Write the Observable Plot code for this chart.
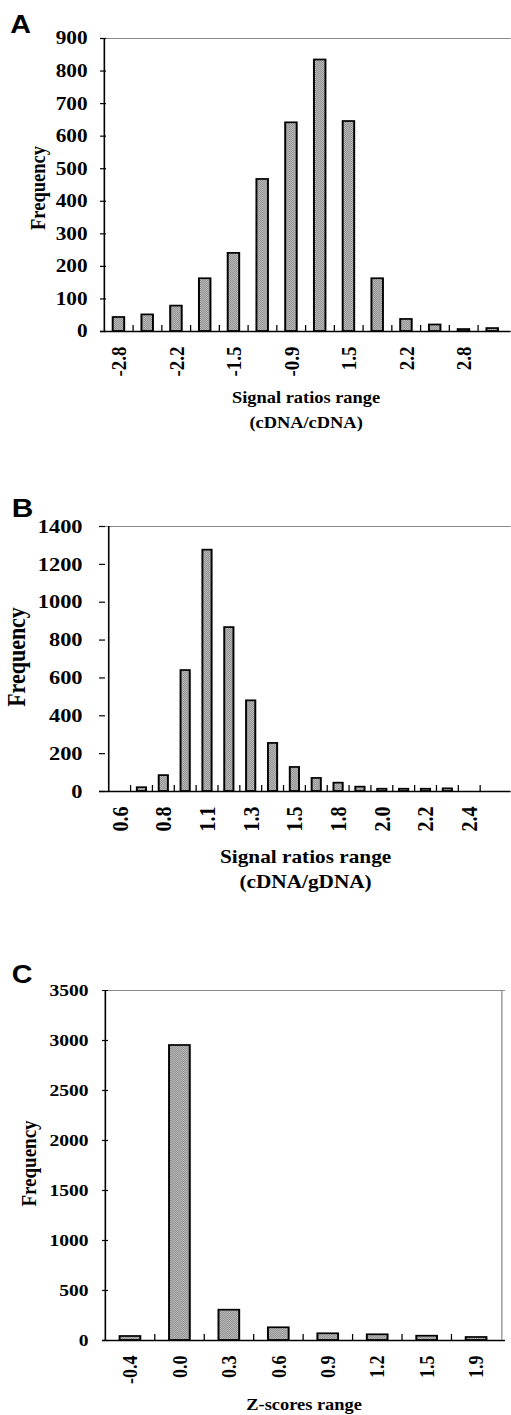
<!DOCTYPE html>
<html><head><meta charset="utf-8">
<script src="https://cdn.jsdelivr.net/npm/d3@7"></script>
<script src="https://cdn.jsdelivr.net/npm/@observablehq/plot@0.6"></script>
<style>
html,body{margin:0;padding:0;background:#fff;overflow:hidden;width:511px;height:1415px}
#root{position:relative;width:511px;height:1415px}
.panel{position:absolute;left:0;width:511px}
.panel svg{display:block;transform-origin:0 0;max-width:none !important}
</style></head><body>
<svg width="0" height="0" style="position:absolute">
  <defs>
    <pattern id="halftone" width="2" height="2" patternUnits="userSpaceOnUse">
      <rect width="2" height="2" fill="#c6c6c6"></rect>
      <rect width="1" height="1" fill="#858585"></rect>
      <rect x="1" y="1" width="1" height="1" fill="#858585"></rect>
    </pattern>
  </defs>
</svg>
<div id="root"></div>
<script>
// ---- Panel A data ----
const catsA = ["-2.8","-2.5","-2.2","-1.8","-1.5","-1.2","-0.9","1.2","1.5","1.8","2.2","2.5","2.8","3.1"];
const valsA = [43, 51, 78, 162, 240, 467, 641, 834, 645, 162, 37, 20, 6, 9];
const xTicksA = ["-2.8","-2.2","-1.5","-0.9","1.5","2.2","2.8"];
const yTicksA = [0, 100, 200, 300, 400, 500, 600, 700, 800, 900];
const titleA = ["Signal ratios range", "(cDNA/cDNA)"];

// ---- Panel B data ----
const catsB = ["0.6","0.7","0.8","1.0","1.1","1.2","1.3","1.4","1.5","1.7","1.8","1.9","2.0","2.1","2.2","2.3","2.4","2.5"];
const valsB = [0, 20, 84, 639, 1275, 866, 479, 254, 127, 69, 44, 23, 12, 12, 12, 14, 0, 0];
const xTicksB = ["0.6","0.8","1.1","1.3","1.5","1.8","2.0","2.2","2.4"];
const yTicksB = [0, 200, 400, 600, 800, 1000, 1200, 1400];
const titleB = ["Signal ratios range", "(cDNA/gDNA)"];

// ---- Panel C data ----
const catsC = ["-0.4","0.0","0.3","0.6","0.9","1.2","1.5","1.9"];
const valsC = [40, 2950, 303, 127, 67, 57, 43, 30];
const xTicksC = catsC;
const yTicksC = [0, 500, 1000, 1500, 2000, 2500, 3000, 3500];
const titleC = ["Z-scores range"];

const serif = "'Liberation Serif','Times New Roman',Times,serif";
const sans = "'Liberation Sans',Arial,Helvetica,sans-serif";
const S = 1.15; // horizontal stretch of the original figure's lettering

function panel(cfg) {
  const width = 511 / S;
  const {letter, cats, vals, xTicks, yTicks, titles, top, height, mT, mB} = cfg;
  const mL = cfg.mL / S, mR = cfg.mR / S;
  const fw = width - mL - mR, fh = height - mT - mB;
  const step = fw / cats.length;
  const yMax = yTicks[yTicks.length - 1];
  const data = cats.map((c, i) => ({c, v: vals[i]}));
  const marks = [
    Plot.barY(data, {x: "c", y: "v", fill: "url(#halftone)", stroke: "#000", strokeWidth: 1.7}),
    Plot.ruleY([0], {stroke: "#000", strokeWidth: 1.6}),
    Plot.ruleY([yMax], {stroke: "#8a8a8a", strokeWidth: 1.2}),
    Plot.tickX([cats[0]], {x: d => d, dx: -step / 2, stroke: "#000", strokeWidth: 1.4}),
    Plot.tickX(cats.slice(1), {x: d => d, dx: -step / 2, insetTop: fh - 6, stroke: "#000", strokeWidth: 1.1}),
    Plot.tickY(yTicks, {y: d => d, insetRight: fw - 6 / S, stroke: "#000", strokeWidth: 1.2}),
    Plot.axisX({ticks: xTicks, tickSize: 0, tickPadding: 15, tickRotate: -90, fontSize: cfg.xFont, label: null}),
    Plot.axisY({ticks: yTicks, tickFormat: d => String(d), tickSize: 0, tickPadding: cfg.tickPadY / S, fontSize: cfg.yFont, label: null}),
    Plot.text(["Frequency"], {text: d => d, frameAnchor: "left", textAnchor: "middle", lineAnchor: "middle", rotate: -90, dx: cfg.freqDx / S, dy: cfg.freqDy, fontSize: cfg.freqSize}),
    Plot.text([letter], {text: d => d, frameAnchor: "top-left", textAnchor: "middle", lineAnchor: "middle", dx: cfg.letterDx / S, dy: cfg.letterDy, fontSize: cfg.letterSize, fontFamily: sans, fontWeight: "bold"})
  ];
  titles.forEach((t, i) => {
    marks.push(Plot.text([t], {text: d => d, frameAnchor: "bottom", textAnchor: "middle", lineAnchor: "middle", dy: cfg.titleDy[i], fontSize: cfg.titleSize}));
  });
  if (cfg.rightBorder) {
    marks.push(Plot.tickX([cats[cats.length - 1]], {x: d => d, dx: step / 2, stroke: "#8a8a8a", strokeWidth: 1.1}));
  }
  const chart = Plot.plot({
    width, height,
    marginLeft: mL, marginRight: mR, marginTop: mT, marginBottom: mB,
    style: {fontFamily: serif, fontWeight: "bold", fontSize: "18px", background: "transparent", color: "#000", overflow: "hidden"},
    x: {domain: cats, paddingInner: cfg.pad, paddingOuter: cfg.pad / 2},
    y: {domain: [0, yMax]},
    marks
  });
  chart.style.transform = `scaleX(${S})`;
  const div = document.createElement("div");
  div.className = "panel";
  div.style.top = top + "px";
  div.appendChild(chart);
  document.getElementById("root").appendChild(div);
}

panel({letter: "A", cats: catsA, vals: valsA, xTicks: xTicksA, yTicks: yTicksA, titles: titleA,
  top: 0, height: 450, mL: 100, mR: 0, mT: 38, mB: 119, pad: 0.62,
  xFont: 19, yFont: 18.5, tickPadY: 13, freqSize: 18.5, freqDx: -62.5, freqDy: 3,
  titleSize: 16, titleDy: [66, 91], letterSize: 25, letterDx: -80, letterDy: -14, rightBorder: false});

panel({letter: "B", cats: catsB, vals: valsB, xTicks: xTicksB, yTicks: yTicksB, titles: titleB,
  top: 450, height: 470, mL: 99, mR: 0, mT: 76, mB: 129, pad: 0.6,
  xFont: 20, yFont: 19.5, tickPadY: 17, freqSize: 22, freqDx: -82.3, freqDy: -2,
  titleSize: 18.5, titleDy: [66, 91], letterSize: 26, letterDx: -77, letterDy: -18, rightBorder: false});

panel({letter: "C", cats: catsC, vals: valsC, xTicks: xTicksC, yTicks: yTicksC, titles: titleC,
  top: 920, height: 495, mL: 102, mR: 6, mT: 70, mB: 75, pad: 0.57,
  xFont: 18, yFont: 17, tickPadY: 14, freqSize: 19, freqDx: -73.4, freqDy: -2,
  titleSize: 16, titleDy: [64], letterSize: 25, letterDx: -80.5, letterDy: -16, rightBorder: true});
</script>
</body></html>
